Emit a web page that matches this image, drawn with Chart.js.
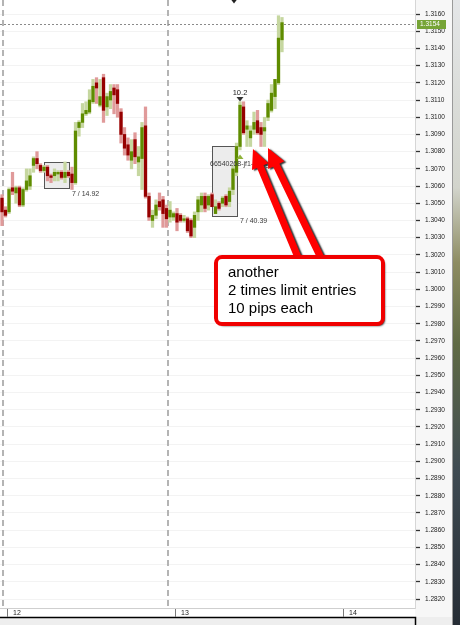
<!DOCTYPE html>
<html>
<head>
<meta charset="utf-8">
<script src="https://cdn.jsdelivr.net/npm/chart.js@4.4.1/dist/chart.umd.min.js"></script>
<style>
  html, body { margin: 0; padding: 0; background: #f4f4f4; }
  #wrap { width: 460px; height: 625px; position: relative; }
</style>
</head>
<body>
<div id="wrap"><canvas id="c" width="460" height="625"></canvas></div>
<script>
// 30 minute candles (index 0 = first bar of the 12th)
const openP  = [1.3053, 1.3046, 1.3045, 1.3059, 1.3056, 1.3059, 1.3049, 1.3058, 1.3060, 1.3072,
                1.3076, 1.3072, 1.3069, 1.3071, 1.3066, 1.3066, 1.3067, 1.3068, 1.3065, 1.3068,
                1.3067, 1.3062, 1.3094, 1.3097, 1.3102, 1.3103, 1.3109, 1.3120, 1.3107, 1.3123,
                1.3106, 1.3110, 1.3117, 1.3116, 1.3103, 1.3090, 1.3084, 1.3075, 1.3087, 1.3074,
                1.3076, 1.3095, 1.3054, 1.3040, 1.3043, 1.3051, 1.3052, 1.3047, 1.3042, 1.3042,
                1.3044, 1.3043, 1.3040, 1.3041, 1.3040, 1.3036, 1.3045, 1.3049, 1.3054, 1.3049,
                1.3055, 1.3044, 1.3050, 1.3050, 1.3054, 1.3051, 1.3058, 1.3068, 1.3083, 1.3106,
                1.3093, 1.3088, 1.3093, 1.3098, 1.3094, 1.3092, 1.3100, 1.3104, 1.3112, 1.3120,
                1.3145]
const highP  = [1.3055, 1.3048, 1.3059, 1.3068, 1.3060, 1.3060, 1.3059, 1.3070, 1.3070, 1.3077,
                1.3080, 1.3073, 1.3072, 1.3072, 1.3067, 1.3070, 1.3069, 1.3069, 1.3074, 1.3069,
                1.3071, 1.3097, 1.3098, 1.3108, 1.3109, 1.3116, 1.3122, 1.3123, 1.3122, 1.3125,
                1.3114, 1.3119, 1.3119, 1.3119, 1.3105, 1.3094, 1.3088, 1.3087, 1.3091, 1.3083,
                1.3097, 1.3106, 1.3056, 1.3046, 1.3052, 1.3056, 1.3054, 1.3049, 1.3051, 1.3045,
                1.3047, 1.3044, 1.3043, 1.3042, 1.3041, 1.3045, 1.3054, 1.3056, 1.3056, 1.3055,
                1.3056, 1.3052, 1.3051, 1.3054, 1.3055, 1.3059, 1.3072, 1.3085, 1.3109, 1.3109,
                1.3098, 1.3095, 1.3103, 1.3104, 1.3097, 1.3100, 1.3110, 1.3119, 1.3122, 1.3159,
                1.3158]
const lowP   = [1.3037, 1.3042, 1.3044, 1.3055, 1.3050, 1.3048, 1.3048, 1.3057, 1.3058, 1.3068,
                1.3070, 1.3068, 1.3068, 1.3063, 1.3062, 1.3063, 1.3063, 1.3064, 1.3062, 1.3065,
                1.3058, 1.3061, 1.3089, 1.3094, 1.3101, 1.3102, 1.3108, 1.3108, 1.3106, 1.3097,
                1.3101, 1.3105, 1.3102, 1.3100, 1.3085, 1.3078, 1.3075, 1.3070, 1.3073, 1.3066,
                1.3058, 1.3053, 1.3040, 1.3036, 1.3041, 1.3046, 1.3036, 1.3036, 1.3039, 1.3040,
                1.3034, 1.3039, 1.3039, 1.3033, 1.3030, 1.3030, 1.3040, 1.3045, 1.3045, 1.3046,
                1.3048, 1.3044, 1.3046, 1.3048, 1.3048, 1.3048, 1.3055, 1.3066, 1.3081, 1.3090,
                1.3083, 1.3083, 1.3090, 1.3090, 1.3083, 1.3083, 1.3098, 1.3103, 1.3105, 1.3119,
                1.3138]
const closeP = [1.3045, 1.3043, 1.3058, 1.3057, 1.3059, 1.3049, 1.3058, 1.3063, 1.3066, 1.3076,
                1.3073, 1.3069, 1.3071, 1.3066, 1.3065, 1.3068, 1.3068, 1.3065, 1.3068, 1.3066,
                1.3062, 1.3092, 1.3097, 1.3102, 1.3104, 1.3110, 1.3118, 1.3117, 1.3112, 1.3104,
                1.3112, 1.3115, 1.3113, 1.3108, 1.3090, 1.3082, 1.3078, 1.3080, 1.3077, 1.3077,
                1.3094, 1.3054, 1.3042, 1.3043, 1.3049, 1.3048, 1.3044, 1.3041, 1.3046, 1.3044,
                1.3039, 1.3040, 1.3041, 1.3034, 1.3031, 1.3043, 1.3052, 1.3054, 1.3047, 1.3054,
                1.3048, 1.3048, 1.3047, 1.3053, 1.3049, 1.3057, 1.3070, 1.3083, 1.3107, 1.3091,
                1.3095, 1.3092, 1.3097, 1.3091, 1.3090, 1.3094, 1.3108, 1.3114, 1.3122, 1.3146,
                1.3155]

const priceTicks = [1.3160, 1.3150, 1.3140, 1.3130, 1.3120, 1.3110, 1.3100, 1.3090, 1.3080, 1.3070,
                    1.3060, 1.3050, 1.3040, 1.3030, 1.3020, 1.3010, 1.3000, 1.2990, 1.2980, 1.2970,
                    1.2960, 1.2950, 1.2940, 1.2930, 1.2920, 1.2910, 1.2900, 1.2890, 1.2880, 1.2870,
                    1.2860, 1.2850, 1.2840, 1.2830, 1.2820]
const dayLabels = ["12", "13", "14"]
const dayTickIdx = [1.71, 49.71, 97.71]
const sessionIdx = [0.29, 47.43]
const lastPrice = 1.3154

// annotations, in bar index / price units
const orderBoxes = [
  { x0: 12.0, x1: 19.14, y0: 1.30740, y1: 1.30588, label: "7 / 14.92", lx: 20.0, ly: 1.30553 },
  { x0: 60.0, x1: 67.14, y0: 1.30833, y1: 1.30426, label: "7 / 40.39", lx: 68.0, ly: 1.30397 }
]
const noteLines = ["another", "2 times limit entries", "10 pips each"]

const green = "#5f8c00", greenLt = "#c6d7a0", red = "#960000", redLt = "#e09a9a"
const up = openP.map((o, i) => closeP[i] >= o)

const wicks = openP.map((o, i) => ({ x: i, y: [lowP[i], highP[i]] }))
const bodies = openP.map((o, i) => ({ x: i, y: [o, closeP[i]] }))

const backdrop = {
  id: "backdrop",
  beforeDraw(chart) {
    const ctx = chart.ctx
    ctx.save()
    ctx.fillStyle = "#f7f7f7"
    ctx.fillRect(0, 0, 460, 625)
    ctx.fillStyle = "#ffffff"
    ctx.fillRect(0, 0, 415, 617)
    ctx.fillStyle = "#eeeeee"
    ctx.fillRect(0, 617, 460, 8)
    ctx.strokeStyle = "#000"
    ctx.lineWidth = 1.5
    ctx.beginPath()
    ctx.moveTo(0, 617.5); ctx.lineTo(415.5, 617.5); ctx.lineTo(415.5, 625)
    ctx.stroke()
    // desktop showing at the right edge
    const g = ctx.createLinearGradient(0, 0, 0, 625)
    g.addColorStop(0, "#e4e6e8")
    g.addColorStop(0.3, "#d2d4cc")
    g.addColorStop(0.42, "#8d8c62")
    g.addColorStop(0.55, "#5f6a45")
    g.addColorStop(0.75, "#3f4b52")
    g.addColorStop(1, "#262d35")
    ctx.fillStyle = g
    ctx.fillRect(453, 0, 7, 625)
    ctx.fillStyle = "#9a9a9a"
    ctx.fillRect(452, 0, 1, 625)
    ctx.restore()
  },
  beforeDatasetsDraw(chart) {
    const ctx = chart.ctx, x = chart.scales.x, y = chart.scales.y
    const a = chart.chartArea
    ctx.save()
    // order boxes
    orderBoxes.forEach((b) => {
      const l = Math.round(x.getPixelForValue(b.x0)) + 0.5, r = Math.round(x.getPixelForValue(b.x1)) + 0.5
      const t = Math.round(y.getPixelForValue(b.y0)) + 0.5, btm = Math.round(y.getPixelForValue(b.y1)) + 0.5
      ctx.fillStyle = "#ececec"
      ctx.fillRect(l, t, r - l, btm - t)
      ctx.strokeStyle = "#555"
      ctx.lineWidth = 1
      ctx.strokeRect(l, t, r - l, btm - t)
    })
    // session separators
    ctx.strokeStyle = "#b4b4b4"
    ctx.lineWidth = 2
    ctx.setLineDash([6, 4])
    sessionIdx.forEach((v) => {
      const px = x.getPixelForValue(v)
      ctx.beginPath(); ctx.moveTo(px, a.top); ctx.lineTo(px, a.bottom); ctx.stroke()
    })
    // last price dotted line
    ctx.strokeStyle = "#8a8a8a"
    ctx.lineWidth = 1
    ctx.setLineDash([2, 2])
    const ly = Math.round(y.getPixelForValue(lastPrice)) + 0.5
    ctx.beginPath(); ctx.moveTo(a.left, ly); ctx.lineTo(a.right, ly); ctx.stroke()
    ctx.restore()
  },
  afterDatasetsDraw(chart) {
    const ctx = chart.ctx, x = chart.scales.x, y = chart.scales.y
    const X = (v) => x.getPixelForValue(v), Y = (v) => y.getPixelForValue(v)
    ctx.save()
    ctx.textBaseline = "middle"
    ctx.fillStyle = "#3a3a3a"
    ctx.font = "7px 'Liberation Sans'"
    orderBoxes.forEach((b) => ctx.fillText(b.label, X(b.lx), Y(b.ly)))
    ctx.fillText("66540268-jf1-4fe-ga1", X(59.43), Y(1.30728))
    // trade markers
    ctx.font = "7.5px 'Liberation Sans'"
    ctx.textAlign = "center"
    ctx.fillStyle = "#222"
    ctx.fillText("10.2", X(68.0), Y(1.31141))
    const tri = (cx, cy, dir, col) => {
      ctx.fillStyle = col
      ctx.beginPath()
      ctx.moveTo(cx - 3.5, cy - 2 * dir); ctx.lineTo(cx + 3.5, cy - 2 * dir); ctx.lineTo(cx, cy + 2.5 * dir)
      ctx.closePath(); ctx.fill()
    }
    tri(X(68.0), Y(1.31106), 1, "#333")
    tri(X(68.0), Y(1.30769), -1, "#8fb33a")
    tri(X(66.29), Y(1.31676), 1, "#222")

    // red arrows
    const arrow = (tx, ty, hx, hy) => {
      const x1 = X(tx), y1 = Y(ty), x2 = X(hx), y2 = Y(hy)
      const ang = Math.atan2(y2 - y1, x2 - x1), len = Math.hypot(x2 - x1, y2 - y1)
      ctx.save()
      ctx.translate(x1, y1); ctx.rotate(ang)
      ctx.beginPath()
      ctx.moveTo(0, -3.5); ctx.lineTo(len - 19, -3.5); ctx.lineTo(len - 19, -9); ctx.lineTo(len, 0)
      ctx.lineTo(len - 19, 9); ctx.lineTo(len - 19, 3.5); ctx.lineTo(0, 3.5); ctx.closePath()
      ctx.shadowColor = "rgba(0,0,0,0.8)"; ctx.shadowOffsetX = 2; ctx.shadowOffsetY = 1; ctx.shadowBlur = 1.5
      ctx.fillStyle = "#ff0000"
      ctx.fill()
      ctx.restore()
    }
    arrow(85.14, 1.30158, 71.71, 1.30815)
    arrow(91.71, 1.30158, 76.0, 1.30821)

    // note box
    const bl = X(61.14), br = X(108.86), bt = Y(1.30187), bb = Y(1.29798)
    ctx.save()
    ctx.beginPath()
    ctx.roundRect(bl, bt, br - bl, bb - bt, 6)
    ctx.shadowColor = "rgba(0,0,0,0.85)"; ctx.shadowOffsetX = 2; ctx.shadowOffsetY = 2; ctx.shadowBlur = 2
    ctx.fillStyle = "#fff"
    ctx.fill()
    ctx.shadowColor = "transparent"
    ctx.lineWidth = 4
    ctx.strokeStyle = "#f00000"
    ctx.stroke()
    ctx.restore()
    ctx.fillStyle = "#000"
    ctx.textAlign = "left"
    ctx.font = "15px 'Liberation Sans'"
    const lineY = [1.30094, 1.29990, 1.29885]
    noteLines.forEach((t, i) => ctx.fillText(t, X(64.57), Y(lineY[i])))

    // last price tag on the axis
    const py = Math.round(Y(lastPrice))
    ctx.fillStyle = "#76a436"
    ctx.fillRect(417, py - 4, 29, 9)
    ctx.fillStyle = "#ffffff"
    ctx.font = "6.5px 'Liberation Sans'"
    ctx.fillText(lastPrice.toFixed(4), 420, py + 0.5)
    ctx.restore()
  }
}

Chart.defaults.font.family = "'Liberation Sans', Arial, sans-serif"

new Chart(document.getElementById("c"), {
  type: "bar",
  data: {
    datasets: [
      {
        data: bodies,
        backgroundColor: up.map((u) => (u ? green : red)),
        barThickness: 2.6,
        minBarLength: 1,
        grouped: false,
      },
      {
        data: wicks,
        backgroundColor: up.map((u) => (u ? greenLt : redLt)),
        barThickness: 2.6,
        grouped: false,
      },
    ],
  },
  options: {
    responsive: false,
    animation: false,
    layout: { padding: 0 },
    plugins: { legend: { display: false }, tooltip: { enabled: false } },
    scales: {
      x: {
        type: "linear",
        offset: false,
        min: -0.5714,
        max: 118.0,
        afterBuildTicks: (s) => { s.ticks = dayTickIdx.map((v) => ({ value: v })) },
        afterFit: (s) => { s.height = 17; s.paddingLeft = 0; s.paddingRight = 0 },
        grid: { display: true, drawOnChartArea: false, drawTicks: true, tickLength: 9, color: "#7a7a7a", offset: false },
        border: { display: true, color: "#cfcfcf" },
        ticks: {
          align: "start",
          labelOffset: 5,
          padding: -8,
          maxRotation: 0,
          autoSkip: false,
          font: { size: 7 },
          color: "#222",
          callback: (v, i) => dayLabels[i],
        },
      },
      y: {
        position: "right",
        min: 1.281477,
        max: 1.316814,
        beginAtZero: false,
        afterBuildTicks: (s) => { s.ticks = priceTicks.map((v) => ({ value: v })) },
        afterFit: (s) => { s.width = 45; s.paddingTop = 0; s.paddingBottom = 0 },
        grid: { color: "#f3f3f3", tickColor: "#333", tickLength: 5, tickWidth: 1.3 },
        border: { display: true, color: "#d6d6d6" },
        ticks: {
          padding: 5,
          autoSkip: false,
          font: { size: 6.5 },
          color: "#222",
          callback: (v) => Number(v).toFixed(4),
        },
      },
    },
  },
  plugins: [backdrop],
})
</script>
</body>
</html>
